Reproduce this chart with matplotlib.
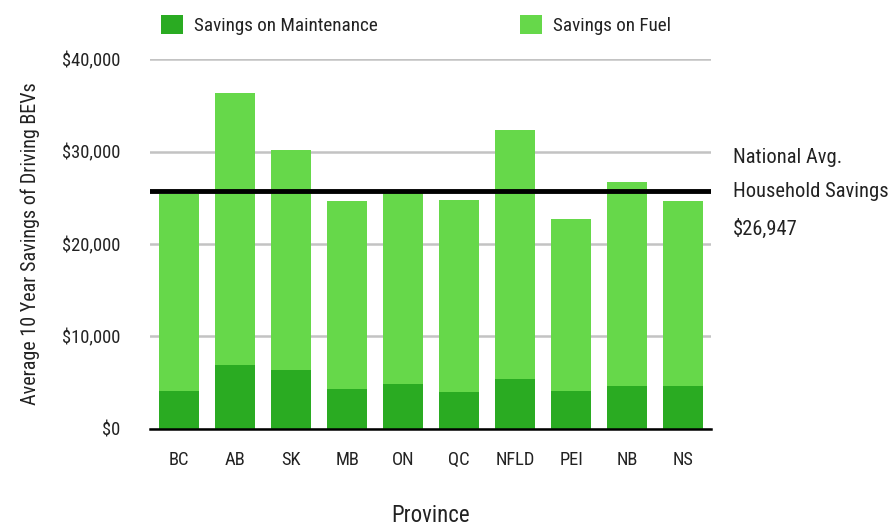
import matplotlib
matplotlib.use('Agg')
import matplotlib.pyplot as plt
from matplotlib import font_manager
import numpy as np
from matplotlib.ticker import FuncFormatter

provinces = ['BC', 'AB', 'SK', 'MB', 'ON', 'QC', 'NFLD', 'PEI', 'NB', 'NS']
maintenance = [4100, 6900, 6400, 4300, 4900, 4000, 5400, 4100, 4600, 4600]
total = [25400, 36300, 30200, 24700, 25600, 24800, 32300, 22700, 26650, 24700]
fuel = [t - m for t, m in zip(total, maintenance)]
national_avg = 25700          # where the line is drawn in the original
national_avg_label = '$26,947'

#-- pick a condensed face if the system has one
names = set((f.name, f.stretch) for f in font_manager.fontManager.ttflist)
fam = ['DejaVu Sans']
stretch = 'normal'
for n in ['Roboto Condensed', 'Open Sans Condensed', 'Liberation Sans Narrow',
          'DejaVu Sans Condensed']:
    if any(nm == n for nm, st in names):
        fam = [n, 'DejaVu Sans']
        break
else:
    if ('DejaVu Sans', 'condensed') in names or ('DejaVu Sans', 'semi-condensed') in names:
        stretch = 'condensed'
plt.rcParams['font.family'] = fam
plt.rcParams['font.stretch'] = stretch
condensed = fam[0] != 'DejaVu Sans' or stretch != 'normal'
k = 1.0 if condensed else 0.86
txt = '#222222'

fig = plt.figure(figsize=(8.89, 5.27), dpi=100)
ax = fig.add_axes([0.1687, 0.186, 0.6313, 0.702])

x = np.arange(len(provinces))
b1 = ax.bar(x, maintenance, width=0.71, color='#2aab22', label='Savings on Maintenance', zorder=2)
b2 = ax.bar(x, fuel, width=0.71, bottom=maintenance, color='#66d84a',
            label='Savings on Fuel', zorder=2)

#-- axes styling
ax.set_xlim(-0.52, 9.5)
ax.set_ylim(0, 40000)
ax.set_yticks([0, 10000, 20000, 30000, 40000])
ax.yaxis.set_major_formatter(FuncFormatter(lambda v, p: '${:,.0f}'.format(v)))
ax.grid(axis='y', color='#c3c3c3', linewidth=1.8, zorder=0)
for s in ['top', 'right', 'left']:
    ax.spines[s].set_visible(False)
ax.spines['bottom'].set_linewidth(1.8)
ax.spines['bottom'].set_zorder(3)
ax.tick_params(length=0, labelsize=13.3 * k, colors=txt)
ax.tick_params(axis='y', pad=21.5)
ax.tick_params(axis='x', pad=16)
ax.set_xticks(x)
ax.set_xticklabels(provinces)

ax.set_xlabel('Province', fontsize=16.5 * k, color=txt, labelpad=25)
ax.set_ylabel('Average 10 Year Savings of Driving BEVs', fontsize=14.5 * k, color=txt,
              labelpad=16)

#-- national average line + note
ax.axhline(national_avg, color='black', linewidth=3.5, zorder=4)
note_x = 1.039
tr = ax.get_yaxis_transform()
ax.text(note_x, national_avg + 3650, 'National Avg.', transform=tr,
        fontsize=14.8 * k, color=txt, va='center', ha='left')
ax.text(note_x, national_avg, 'Household Savings', transform=tr,
        fontsize=14.8 * k, color=txt, va='center', ha='left')
ax.text(note_x, national_avg - 4100, national_avg_label, transform=tr,
        fontsize=14.8 * k, color=txt, va='center', ha='left')

#-- legend, one entry each so they sit where the original has them
for h, xa in [(b1, 0.172), (b2, 0.576)]:
    fig.legend(handles=[h], loc='center left', bbox_to_anchor=(xa, 0.953),
               frameon=False, fontsize=13.8 * k, handlelength=1.18 / k, handleheight=1.18 / k,
               handletextpad=0.55, labelcolor=txt, borderaxespad=0)

plt.savefig('out.png', dpi=100)
